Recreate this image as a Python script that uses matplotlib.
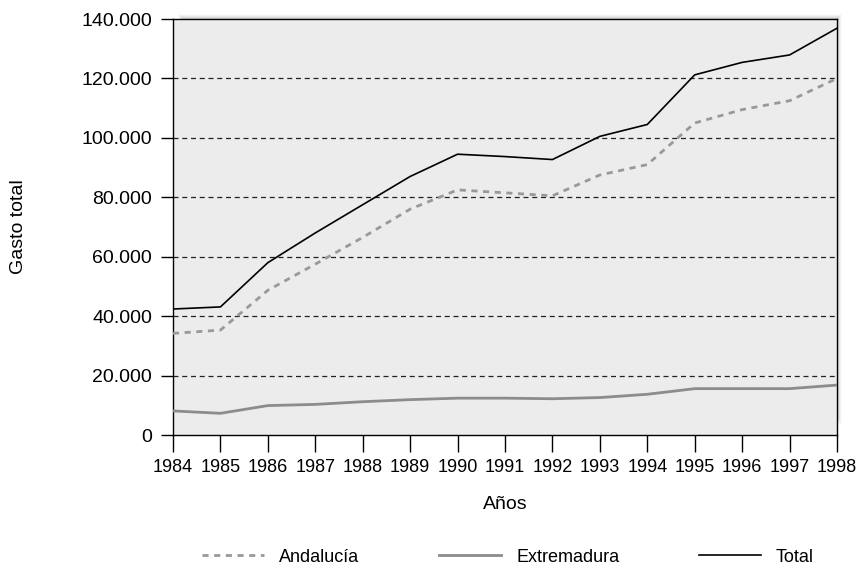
import matplotlib
matplotlib.use("Agg")
import matplotlib.pyplot as plt
from matplotlib.patches import Rectangle

plt.rcParams['font.family'] = ['Liberation Sans', 'DejaVu Sans']

years = list(range(1984, 1999))
andalucia = [34.2, 35.3, 48.7, 57.5, 66.5, 76.0, 82.5, 81.5, 80.5, 87.5, 91.0, 105.0, 109.5, 112.5, 120.0]
extremadura = [8.1, 7.3, 9.9, 10.3, 11.2, 11.9, 12.4, 12.4, 12.2, 12.6, 13.7, 15.6, 15.6, 15.6, 16.8]
total = [42.4, 43.1, 58.0, 68.0, 77.5, 87.0, 94.5, 93.7, 92.7, 100.5, 104.5, 121.2, 125.4, 127.9, 136.9]
yticks = [0, 20, 40, 60, 80, 100, 120, 140]
ytick_labels = ['0', '20.000', '40.000', '60.000', '80.000', '100.000', '120.000', '140.000']

fig = plt.figure(figsize=(8.62, 5.68), dpi=100)
L, R, T, B = 173/862, 837/862, 1-19/568, 1-435/568
ax = fig.add_axes([L, B, R-L, T-B])
ax.set_zorder(5)

# soft drop shadow (behind axes, offset up/right)
W, H = 862, 568
for i, a in enumerate([0.02, 0.03, 0.04, 0.05, 0.06]):
    off = 5 - i
    x0 = 178 + (5 - off)
    x1 = 837 + off
    y0 = 19 - off - 0  # top (pixels from top)
    y1 = 425 - (5 - off) * 2
    fig.patches.append(Rectangle((x0 / W, 1 - y1 / H), (x1 - x0) / W, (y1 - y0) / H,
                                 transform=fig.transFigure, facecolor='black', alpha=a,
                                 edgecolor='none', zorder=0))

ax.set_facecolor('#ececec')
ax.set_xlim(1984, 1998)
ax.set_ylim(0, 140)
ax.set_yticks(yticks)
ax.set_yticklabels(ytick_labels)
ax.set_xticks(years)
ax.set_xticklabels([str(y) for y in years])
ax.tick_params(axis='both', direction='out', width=1, color='black')
ax.tick_params(axis='y', length=9, pad=6, labelsize=14)
ax.tick_params(axis='x', length=12, pad=5, labelsize=13)
for v in yticks[1:-1]:
    ax.axhline(v, color='#222222', lw=0.9, ls=(0, (4, 3)), zorder=1)

for s in ax.spines.values():
    s.set_color('black')
    s.set_linewidth(1)

ax.plot(years, andalucia, color='#999999', lw=2, ls=(0, (2.2, 2)), label='Andalucía', zorder=3)
ax.plot(years, extremadura, color='#8c8c8c', lw=2, label='Extremadura', zorder=3)
ax.plot(years, total, color='black', lw=1.2, label='Total', zorder=4)

ax.set_xlabel('Años', fontsize=14)
ax.xaxis.set_label_coords(0.5, (435 - 496) / 416)
ax.set_ylabel('Gasto total', fontsize=14)
ax.yaxis.set_label_coords((27 - 173) / 664, 0.5)

fig.legend(loc='center left', bbox_to_anchor=(202/862, 1-557/568), ncol=3, frameon=False,
           fontsize=13, handlelength=3.45, columnspacing=4.4, handletextpad=0.83,
           borderpad=0, borderaxespad=0)

fig.savefig('out.png', dpi=100)
